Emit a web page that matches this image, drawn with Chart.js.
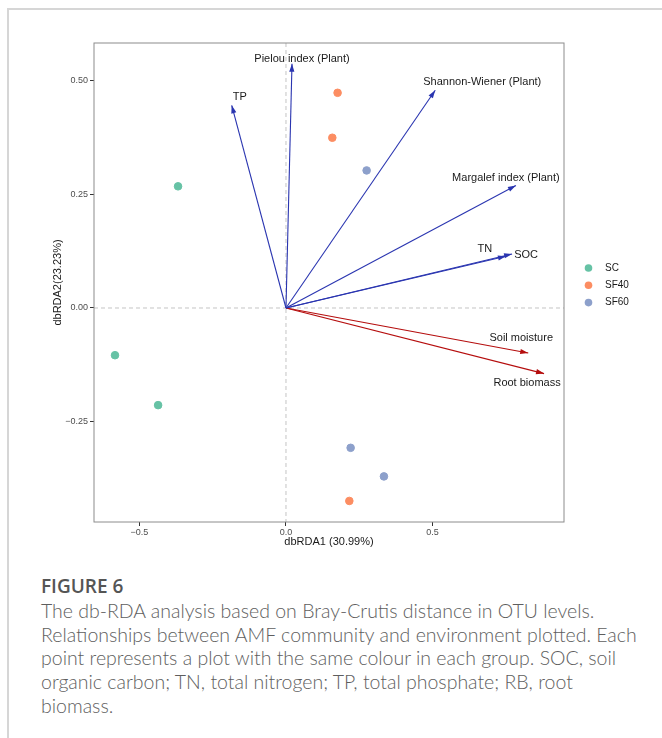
<!DOCTYPE html>
<html>
<head>
<meta charset="utf-8">
<script src="https://cdn.jsdelivr.net/npm/chart.js@4.4.1/dist/chart.umd.min.js"></script>
<style>
  html, body { margin: 0; padding: 0; background: #fff; }
  body { width: 662px; height: 738px; position: relative; overflow: hidden; }
  #frame { position: absolute; left: 7px; top: 8px; right: -4px; bottom: -4px;
           border-top: 2px solid #d6d6d6; border-left: 2px solid #d6d6d6; }
  #wrap { position: absolute; left: 0; top: 0; width: 662px; height: 560px; }
  .fig { position: absolute; left: 41px; top: 574px; font-family: "Open Sans", sans-serif;
         font-weight: 600; font-size: 19px; line-height: 24px; color: #555; }
  .cap { position: absolute; left: 41px; top: 599px; font-family: Lato, sans-serif;
         font-weight: 300; font-size: 19.5px; line-height: 23.7px; color: #5e5e5e; white-space: nowrap; }
</style>
</head>
<body>
<div id="frame"></div>
<div id="wrap"><canvas id="rdaChart"></canvas></div>
<div class="fig">FIGURE 6</div>
<div class="cap">The db-RDA analysis based on Bray-Crutis distance in OTU levels.<br>Relationships between AMF community and environment plotted. Each<br>point represents a plot with the same colour in each group. SOC, soil<br>organic carbon; TN, total nitrogen; TP, total phosphate; RB, root<br>biomass.</div>
<script>
// Datos de las muestras
const groups = ['SC', 'SF40', 'SF60'];
const scX = [-0.368, -0.583, -0.436];
const scY = [0.268, -0.104, -0.214];
const sf40X = [0.176, 0.158, 0.216];
const sf40Y = [0.474, 0.375, -0.425];
const sf60X = [0.275, 0.2205, 0.334];
const sf60Y = [0.303, -0.308, -0.371];

// Vectores ambientales
const envNames = ['Pielou index (Plant)', 'TP', 'Shannon-Wiener (Plant)', 'Margalef index (Plant)',
                  'TN', 'SOC', 'Soil moisture', 'Root biomass'];
const envX = [0.0205, -0.185, 0.509, 0.784, 0.750, 0.771, 0.826, 0.880];
const envY = [0.538, 0.4465, 0.4795, 0.270, 0.114, 0.119, -0.099, -0.1445];

// Ticks
const xTicks = [-0.5, 0, 0.5];
const xTickLabels = ['\u22120.5', '0.0', '0.5'];
const yTicks = [-0.25, 0, 0.25, 0.5];
const yTickLabels = ['\u22120.25', '0.00', '0.25', '0.50'];

const groupColors = ['#66c2a5', '#fc8d62', '#8da0cb'];
const blue = '#2a35b0';
const red = '#b50d0d';
const envColors = [blue, blue, blue, blue, blue, blue, red, red];
// desplazamiento de etiquetas respecto a la punta (px)
const labelOffset = [[10, -5], [8, -8], [47, -8], [-10, -7], [-21, -7], [14, 1], [-7, -15], [-17, 9]];

const toPts = (xs, ys) => xs.map((x, i) => ({ x: x, y: ys[i] }));
const groupData = [toPts(scX, scY), toPts(sf40X, sf40Y), toPts(sf60X, sf60Y)];

const datasets = [];
envNames.forEach((name, i) => {
    datasets.push({
        type: 'line',
        label: name,
        data: [{ x: 0, y: 0 }, { x: envX[i], y: envY[i] }],
        borderColor: envColors[i],
        borderWidth: 1.1,
        pointRadius: 0,
        fill: false
    });
});
groups.forEach((g, i) => {
    datasets.push({
        type: 'scatter',
        label: g,
        data: groupData[i],
        backgroundColor: groupColors[i],
        borderColor: groupColors[i],
        pointRadius: 3.8,
        pointHoverRadius: 3.8
    });
});

const rdaPlugin = {
    id: 'rdaExtras',
    beforeDatasetsDraw(chart) {
        const { ctx, chartArea: a, scales: { x, y } } = chart;
        ctx.save();
        ctx.strokeStyle = '#c4c4c4';
        ctx.lineWidth = 1;
        ctx.setLineDash([4, 3]);
        const x0 = x.getPixelForValue(0), y0 = y.getPixelForValue(0);
        ctx.beginPath();
        ctx.moveTo(x0, a.top); ctx.lineTo(x0, a.bottom);
        ctx.moveTo(a.left, y0); ctx.lineTo(a.right, y0);
        ctx.stroke();
        ctx.restore();
    },
    afterDatasetsDraw(chart) {
        const { ctx, chartArea: a, scales: { x, y } } = chart;
        const ox = x.getPixelForValue(0), oy = y.getPixelForValue(0);
        ctx.save();
        envNames.forEach((name, i) => {
            const tx = x.getPixelForValue(envX[i]), ty = y.getPixelForValue(envY[i]);
            const ang = Math.atan2(ty - oy, tx - ox);
            const len = 8, half = 2.6;
            ctx.fillStyle = envColors[i];
            ctx.beginPath();
            ctx.moveTo(tx, ty);
            ctx.lineTo(tx - len * Math.cos(ang) + half * Math.sin(ang), ty - len * Math.sin(ang) - half * Math.cos(ang));
            ctx.lineTo(tx - len * Math.cos(ang) - half * Math.sin(ang), ty - len * Math.sin(ang) + half * Math.cos(ang));
            ctx.closePath();
            ctx.fill();
            ctx.fillStyle = '#1a1a1a';
            ctx.font = '11px "Liberation Sans", Arial, sans-serif';
            ctx.textAlign = 'center';
            ctx.textBaseline = 'middle';
            ctx.fillText(name, tx + labelOffset[i][0], ty + labelOffset[i][1]);
        });
        // borde del panel
        ctx.strokeStyle = '#8c8c8c';
        ctx.lineWidth = 1;
        ctx.strokeRect(a.left, a.top, a.right - a.left, a.bottom - a.top);
        // leyenda
        ctx.font = '10px "Liberation Sans", Arial, sans-serif';
        ctx.textAlign = 'left';
        ctx.textBaseline = 'middle';
        groups.forEach((g, i) => {
            const ly = 268 + i * 17.3;
            ctx.fillStyle = groupColors[i];
            ctx.beginPath();
            ctx.arc(588.5, ly, 3.8, 0, Math.PI * 2);
            ctx.fill();
            ctx.fillStyle = '#1a1a1a';
            ctx.fillText(g, 605, ly);
        });
        ctx.restore();
    }
};

const tickFont = { family: '"Liberation Sans", Arial, sans-serif', size: 9 };
const titleFont = { family: '"Liberation Sans", Arial, sans-serif', size: 11 };

new Chart(document.getElementById('rdaChart'), {
    type: 'scatter',
    data: { datasets: datasets },
    options: {
        responsive: true,
        maintainAspectRatio: false,
        animation: false,
        layout: { padding: { left: 0, right: 98, top: 43, bottom: 0 } },
        plugins: {
            legend: { display: false },
            tooltip: { enabled: false }
        },
        scales: {
            x: {
                type: 'linear',
                min: -0.6546,
                max: 0.948,
                afterBuildTicks: (s) => { s.ticks = xTicks.map(v => ({ value: v })); },
                afterFit: (s) => { s.height = 38; },
                ticks: {
                    color: '#4d4d4d', font: tickFont, padding: 1, maxRotation: 0,
                    callback: (v) => xTickLabels[xTicks.indexOf(v)]
                },
                grid: { display: true, drawOnChartArea: false, tickLength: 4, color: '#333' },
                border: { display: false },
                title: { display: true, text: 'dbRDA1 (30.99%)', color: '#1a1a1a', font: titleFont,
                         padding: { top: 0, bottom: 11 } }
            },
            y: {
                type: 'linear',
                min: -0.4714,
                max: 0.5837,
                afterBuildTicks: (s) => { s.ticks = yTicks.map(v => ({ value: v })); },
                afterFit: (s) => { s.width = 94; },
                ticks: {
                    color: '#4d4d4d', font: tickFont, padding: 2,
                    callback: (v) => yTickLabels[yTicks.indexOf(v)]
                },
                grid: { display: true, drawOnChartArea: false, tickLength: 4, color: '#333' },
                border: { display: false },
                title: { display: true, text: 'dbRDA2(23.23%)', color: '#1a1a1a', font: titleFont,
                         padding: { top: 51, bottom: 0 } }
            }
        }
    },
    plugins: [rdaPlugin]
});
</script>
</body>
</html>
